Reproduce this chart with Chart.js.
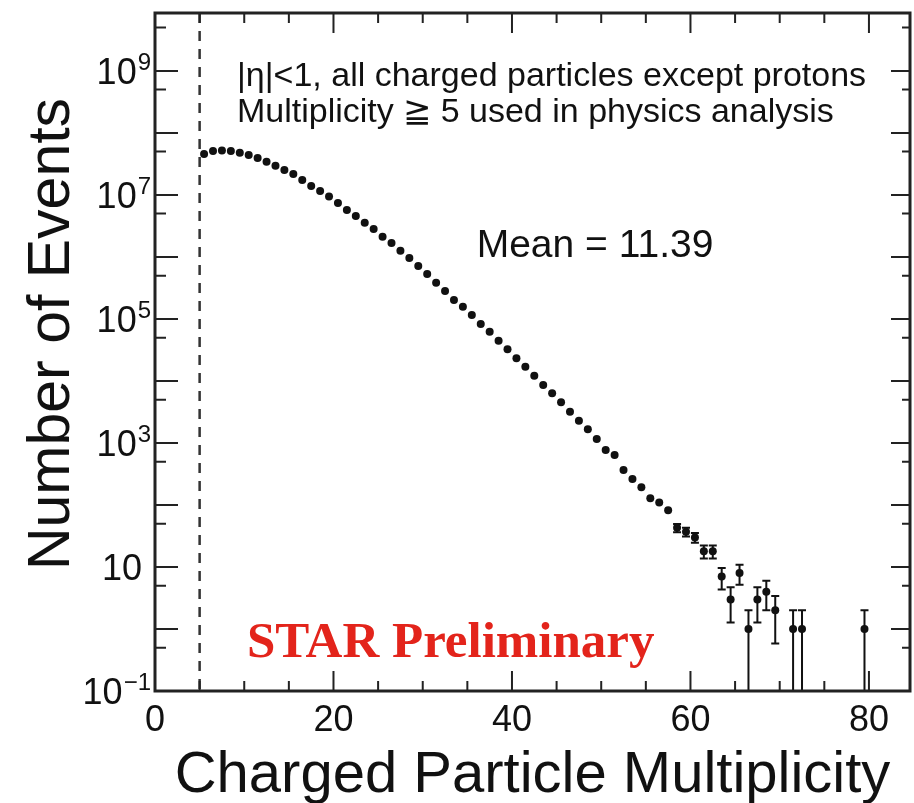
<!DOCTYPE html>
<html>
<head>
<meta charset="utf-8">
<script src="https://cdn.jsdelivr.net/npm/chart.js@4.4.0/dist/chart.umd.min.js"></script>
<style>
  html, body { margin: 0; padding: 0; background: #fff; }
</style>
</head>
<body>
<canvas id="chart" width="914" height="803"></canvas>
<script>
// charged particle multiplicity bins (lower edge); marker sits at the bin centre
const multiplicity = [
   5,  6,  7,  8,  9, 10, 11, 12, 13, 14, 15, 16, 17, 18, 19, 20, 21, 22, 23, 24,
  25, 26, 27, 28, 29, 30, 31, 32, 33, 34, 35, 36, 37, 38, 39, 40, 41, 42, 43, 44,
  45, 46, 47, 48, 49, 50, 51, 52, 53, 54, 55, 56, 57, 58, 59, 60, 61, 62, 63, 64,
  65, 66, 67, 68, 69, 70, 71, 72, 73, 74, 75, 76, 77, 78, 79
];
// number of events per bin (null = empty bin)
const events = [
  4.58e7, 5.13e7, 5.19e7, 5.13e7, 4.81e7, 4.42e7, 3.95e7, 3.44e7, 2.97e7, 2.53e7,
  2.18e7, 1.75e7, 1.40e7, 1.16e7, 9.4e6, 7.43e6, 5.73e6, 4.58e6, 3.57e6, 2.83e6,
  2.12e6, 1.68e6, 1.26e6, 9.64e5, 7.16e5, 5.32e5, 3.85e5, 2.82e5, 2.02e5, 1.58e5,
  1.16e5, 8.30e4, 6.24e4, 4.47e4, 3.24e4, 2.32e4, 1.70e4, 1.21e4, 8610, 6340,
  4530, 3200, 2290, 1660, 1160, 771, 640, 367, 263, 193,
  128, 110, 82, 43, 37, 30, 18, 18, 7, 3,
  8, 1, 3, 4, 2, null, 1, 1, null, null,
  null, null, null, null, 1
];
// statistical errors: sqrt(N)
const xTicks = [0, 20, 40, 60, 80];
const yTicks = [0.1, 10, 1e3, 1e5, 1e7, 1e9];
const yTickLabels = [['10', '\u22121'], ['10', ''], ['10', '3'], ['10', '5'], ['10', '7'], ['10', '9']];
const cutValue = 5;
const infoLines = ['|\u03b7|<1, all charged particles except protons',
                   'Multiplicity \u2267 5 used in physics analysis'];
const meanText = 'Mean = 11.39';
const stampText = 'STAR Preliminary';
const xTitle = 'Charged Particle Multiplicity';
const yTitle = 'Number of Events';

const SANS = '"Liberation Sans", Arial, Helvetica, sans-serif';

const points = [];
multiplicity.forEach((m, i) => {
  if (events[i] !== null) points.push({ x: m + 0.5, y: events[i] });
});

// frame, ticks, dashed cut line, error bars and text
const decor = {
  id: 'decor',
  beforeDatasetsDraw(chart) {
    const { ctx, chartArea: a, scales: { x, y } } = chart;
    ctx.save();
    // dashed cut line
    ctx.strokeStyle = '#333';
    ctx.lineWidth = 2.5;
    ctx.setLineDash([10, 8]);
    const cx = x.getPixelForValue(cutValue);
    ctx.beginPath();
    ctx.moveTo(cx, a.top);
    ctx.lineTo(cx, a.bottom);
    ctx.stroke();
    ctx.setLineDash([]);

    // error bars
    ctx.strokeStyle = '#111';
    ctx.lineWidth = 2;
    points.forEach(p => {
      const err = Math.sqrt(p.y);
      const px = x.getPixelForValue(p.x);
      const hi = y.getPixelForValue(p.y + err);
      const lo = p.y - err > 0 ? y.getPixelForValue(p.y - err) : a.bottom;
      if (lo - hi < 8) return;
      ctx.beginPath();
      ctx.moveTo(px, hi);
      ctx.lineTo(px, Math.min(lo, a.bottom));
      ctx.moveTo(px - 4, hi);
      ctx.lineTo(px + 4, hi);
      if (lo < a.bottom) {
        ctx.moveTo(px - 4, lo);
        ctx.lineTo(px + 4, lo);
      }
      ctx.stroke();
    });
    ctx.restore();
  },
  afterDraw(chart) {
    const { ctx, chartArea: a, scales: { x, y } } = chart;
    ctx.save();
    ctx.strokeStyle = '#222';
    ctx.lineWidth = 3;
    ctx.strokeRect(a.left, a.top, a.right - a.left, a.bottom - a.top);

    // x ticks (top and bottom, pointing inward)
    ctx.lineWidth = 2;
    for (let v = 0; v <= x.max; v += 5) {
      const px = x.getPixelForValue(v);
      const len = v % 20 === 0 ? 20 : 10;
      ctx.beginPath();
      ctx.moveTo(px, a.bottom);
      ctx.lineTo(px, a.bottom - len);
      ctx.moveTo(px, a.top);
      ctx.lineTo(px, a.top + len);
      ctx.stroke();
    }
    // y ticks: decades long, 5x short
    for (let e = -1; e <= 9; e++) {
      [[Math.pow(10, e), 23, 19], [5 * Math.pow(10, e), 11, 8]].forEach(([v, lenL, lenR]) => {
        if (v < y.min || v > y.max) return;
        const py = y.getPixelForValue(v);
        ctx.beginPath();
        ctx.moveTo(a.left, py);
        ctx.lineTo(a.left + lenL, py);
        ctx.moveTo(a.right, py);
        ctx.lineTo(a.right - lenR, py);
        ctx.stroke();
      });
    }

    // y tick labels with superscript exponents
    ctx.fillStyle = '#111';
    ctx.textBaseline = 'alphabetic';
    ctx.textAlign = 'left';
    yTicks.forEach((v, i) => {
      const [base, sup] = yTickLabels[i];
      const py = y.getPixelForValue(v);
      ctx.font = '24px ' + SANS;
      const sw = sup ? ctx.measureText(sup).width : 0;
      ctx.font = '36px ' + SANS;
      const bw = ctx.measureText(base).width;
      const right = sup ? 151 : 143;
      ctx.fillText(base, right - sw - bw - 1, py + 13);
      if (sup) {
        ctx.font = '24px ' + SANS;
        ctx.fillText(sup, right - sw, py - 1);
      }
    });

    // info text
    ctx.font = '34px ' + SANS;
    ctx.fillText(infoLines[0], 237, 86);
    ctx.fillText(infoLines[1], 237, 122);
    ctx.font = '39px ' + SANS;
    ctx.textAlign = 'center';
    ctx.fillText(meanText, 595, 257);
    ctx.font = 'bold 51px "Liberation Serif", "Times New Roman", serif';
    ctx.fillStyle = '#e3241b';
    ctx.textAlign = 'left';
    ctx.fillText(stampText, 247, 657);

    // axis titles
    ctx.fillStyle = '#111';
    ctx.font = '58px ' + SANS;
    ctx.textAlign = 'center';
    ctx.fillText(xTitle, (a.left + a.right) / 2, 792);
    ctx.font = '59px ' + SANS;
    ctx.translate(69, 334);
    ctx.rotate(-Math.PI / 2);
    ctx.fillText(yTitle, 0, 0);
    ctx.restore();
  }
};

new Chart(document.getElementById('chart'), {
  type: 'scatter',
  data: {
    datasets: [{
      label: 'Events',
      data: points,
      pointRadius: 4,
      pointHoverRadius: 4,
      backgroundColor: '#111',
      borderWidth: 0
    }]
  },
  options: {
    responsive: false,
    animation: false,
    devicePixelRatio: 1,
    layout: { padding: { top: 13, right: 2, left: 0, bottom: 0 } },
    plugins: { legend: { display: false }, tooltip: { enabled: false } },
    scales: {
      x: {
        type: 'linear',
        min: 0,
        max: 84.6,
        grid: { display: false, drawTicks: false },
        border: { display: false },
        afterBuildTicks: s => { s.ticks = xTicks.map(v => ({ value: v })); },
        afterFit: s => { s.height = 112; },
        ticks: {
          autoSkip: false,
          maxRotation: 0,
          padding: 8,
          color: '#111',
          font: { family: SANS, size: 36 }
        }
      },
      y: {
        type: 'logarithmic',
        min: 0.1,
        max: 8.6e9,
        grid: { display: false, drawTicks: false },
        border: { display: false },
        afterBuildTicks: s => { s.ticks = yTicks.map(v => ({ value: v })); },
        afterFit: s => { s.width = 155; },
        ticks: { display: false }
      }
    }
  },
  plugins: [decor]
});
</script>
</body>
</html>
